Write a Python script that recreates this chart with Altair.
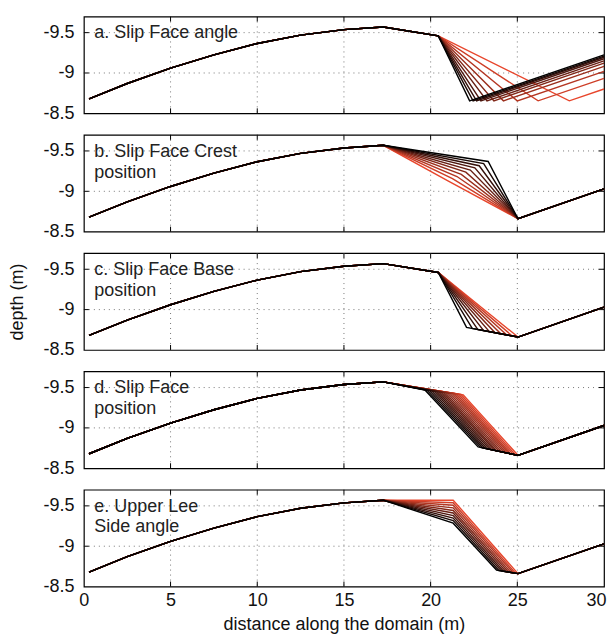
import altair as alt
import pandas as pd

# ---------------- data ----------------
x_ticks = [0, 5, 10, 15, 20, 25, 30]
x_grid = [5, 10, 15, 20, 25]
y_ticks = [-9.5, -9.0, -8.5]
y_grid = [-9.5, -9.0]

# shared stoss side of the dune (up to the crest)
stoss_x = [0.3, 2.5, 5.0, 7.5, 10.0, 12.5, 15.0, 17.27]
stoss_y = [-8.68, -8.87, -9.06, -9.225, -9.366, -9.47, -9.537, -9.57]

brink_x, brink_y = 20.44, -9.46      # default slip-face brink
trough_x, trough_y = 25.04, -8.66    # default slip-face base / trough
end_x, end_y = 30.0, -9.03           # right end of profile

# a. Slip Face angle
a_base_x = [22.25, 22.45, 22.65, 22.9, 23.25, 23.65, 24.2, 25.0, 26.2, 28.0]
a_base_y = [-8.655] * 10
a_end_y = [-9.225, -9.21, -9.195, -9.177, -9.151, -9.122, -9.081, -9.02, -8.934, -8.802]

# b. Slip Face Crest position
b_brink_x = [23.32, 23.06, 22.80, 22.55, 22.29, 22.03, 21.77, 21.52, 21.26, 21.00]
b_brink_y = [-9.37, -9.343, -9.317, -9.29, -9.263, -9.237, -9.21, -9.183, -9.157, -9.13]

# c. Slip Face Base position
c_base_x = [22.07, 22.40, 22.73, 23.06, 23.39, 23.72, 24.05, 24.38, 24.71, 25.04]
c_base_y = [-8.78, -8.767, -8.753, -8.74, -8.727, -8.713, -8.70, -8.687, -8.673, -8.66]

# d. Slip Face position
d_brink_x = [19.67, 19.80, 19.93, 20.06, 20.19, 20.32, 20.45, 20.58, 20.71,
             20.84, 20.97, 21.10, 21.23, 21.36, 21.49, 21.62, 21.75, 21.88]
d_brink_y = [-9.470, -9.466, -9.463, -9.459, -9.456, -9.452, -9.449, -9.445, -9.442,
             -9.438, -9.435, -9.431, -9.428, -9.424, -9.421, -9.417, -9.414, -9.410]
d_base_x = [22.74, 22.88, 23.01, 23.15, 23.28, 23.42, 23.55, 23.69, 23.82,
            23.96, 24.09, 24.23, 24.36, 24.50, 24.63, 24.77, 24.90, 25.04]
d_base_y = [-8.765, -8.759, -8.753, -8.746, -8.740, -8.734, -8.728, -8.722, -8.715,
            -8.709, -8.703, -8.697, -8.691, -8.685, -8.678, -8.672, -8.666, -8.660]

# e. Upper Lee Side angle
e_brink_x = [21.3] * 10
e_brink_y = [-9.285, -9.317, -9.348, -9.38, -9.412, -9.443, -9.475, -9.507, -9.538, -9.57]
e_base_x = [23.80, 23.94, 24.08, 24.21, 24.35, 24.49, 24.63, 24.77, 24.90, 25.04]
e_base_y = [-8.704, -8.699, -8.694, -8.689, -8.684, -8.680, -8.675, -8.670, -8.665, -8.66]

labels = {
    "a": "a. Slip Face angle",
    "b": "b. Slip Face Crest\nposition",
    "c": "c. Slip Face Base\nposition",
    "d": "d. Slip Face\nposition",
    "e": "e. Upper Lee\nSide angle",
}

# ---------------- build line table ----------------
END_RGB = (232, 70, 44)


def shade(i, n):
    t = i / (n - 1)
    return "#%02x%02x%02x" % tuple(int(round(t * c)) for c in END_RGB)


rows = {p: [] for p in "abcde"}


def add(panel, i, n, xs, ys):
    col = shade(i, n)
    for k, (x, y) in enumerate(zip(xs, ys)):
        rows[panel].append({"line": i, "k": k, "x": x, "y": y, "col": col})


n = len(a_base_x)
for i in range(n):
    add("a", i, n,
        stoss_x + [brink_x, a_base_x[i], end_x],
        stoss_y + [brink_y, a_base_y[i], a_end_y[i]])
n = len(b_brink_x)
for i in range(n):
    add("b", i, n,
        stoss_x + [b_brink_x[i], trough_x, end_x],
        stoss_y + [b_brink_y[i], trough_y, end_y])
n = len(c_base_x)
for i in range(n):
    add("c", i, n,
        stoss_x + [brink_x, c_base_x[i], trough_x, end_x],
        stoss_y + [brink_y, c_base_y[i], trough_y, end_y])
n = len(d_brink_x)
for i in range(n):
    add("d", i, n,
        stoss_x + [d_brink_x[i], d_base_x[i], trough_x, end_x],
        stoss_y + [d_brink_y[i], d_base_y[i], trough_y, end_y])
n = len(e_brink_x)
for i in range(n):
    add("e", i, n,
        stoss_x + [e_brink_x[i], e_base_x[i], trough_x, end_x],
        stoss_y + [e_brink_y[i], e_base_y[i], trough_y, end_y])

W, H = 521, 97
FONT = "Liberation Sans"
FS = 18

xscale = alt.Scale(domain=[0, 30], nice=False, zero=False)
yscale = alt.Scale(domain=[-9.7, -8.5], reverse=True, nice=False, zero=False)

grid_x_df = pd.DataFrame({"x": x_grid})
grid_y_df = pd.DataFrame({"y": y_grid})


def panel(p, bottom=False, ytitle=None):
    df = pd.DataFrame(rows[p])
    # red lines first, black on top
    df = df.sort_values(["line", "k"], ascending=[False, True])
    if bottom:
        xaxis = alt.Axis(
            values=x_ticks, title="distance along the domain (m)",
            grid=False, ticks=False, domain=False, labelPadding=5,
            labelFlush=False, labelOverlap=False, titlePadding=6,
            labelAlign={"condition": {"test": "datum.value == 30", "value": "right"},
                        "value": "center"},
            labelOffset={"condition": {"test": "datum.value == 30", "value": 2},
                         "value": 0},
        )
    else:
        xaxis = alt.Axis(values=x_ticks, title=None, labels=False, grid=False,
                         ticks=False, domain=False)
    yaxis = alt.Axis(values=y_ticks, title=ytitle, grid=False, ticks=False,
                     domain=False, labelPadding=10,
                     labelExpr="toString(datum.value)", titlePadding=16)

    gx = alt.Chart(grid_x_df).mark_rule(color="#777", strokeDash=[1, 4],
                                        strokeWidth=1).encode(
        x=alt.X("x:Q", scale=xscale, axis=xaxis))
    gy = alt.Chart(grid_y_df).mark_rule(color="#777", strokeDash=[1, 4],
                                        strokeWidth=1).encode(
        y=alt.Y("y:Q", scale=yscale, axis=yaxis))
    # inner tick marks (MATLAB style)
    tx_top = alt.Chart(grid_x_df).mark_rule(color="black").encode(
        x=alt.X("x:Q", scale=xscale), y=alt.value(0), y2=alt.value(5))
    tx_bot = alt.Chart(grid_x_df).mark_rule(color="black").encode(
        x=alt.X("x:Q", scale=xscale), y=alt.value(H), y2=alt.value(H - 5))
    ty_l = alt.Chart(grid_y_df).mark_rule(color="black").encode(
        y=alt.Y("y:Q", scale=yscale), x=alt.value(0), x2=alt.value(5))
    ty_r = alt.Chart(grid_y_df).mark_rule(color="black").encode(
        y=alt.Y("y:Q", scale=yscale), x=alt.value(W), x2=alt.value(W - 5))

    lines = alt.Chart(df).mark_line(strokeWidth=1.4).encode(
        x=alt.X("x:Q", scale=xscale),
        y=alt.Y("y:Q", scale=yscale),
        color=alt.Color("col:N", scale=None),
        detail="line:N",
        order=alt.Order("k:Q"),
    )
    lab_df = pd.DataFrame({"x": [0.6], "y": [-9.43], "t": [labels[p]]})
    lab = alt.Chart(lab_df).mark_text(align="left", baseline="alphabetic",
                                      fontSize=FS, font=FONT, lineHeight=21,
                                      lineBreak="\n", color="#222").encode(
        x=alt.X("x:Q", scale=xscale), y=alt.Y("y:Q", scale=yscale), text="t:N")
    return alt.layer(gx, gy, tx_top, tx_bot, ty_l, ty_r, lines, lab).properties(
        width=W, height=H)


chart = alt.vconcat(
    panel("a"), panel("b"), panel("c", ytitle="depth (m)"), panel("d"),
    panel("e", bottom=True), spacing=21.5, bounds="flush",
).configure_view(stroke="black", strokeWidth=1.2).configure_axis(
    labelFont=FONT, titleFont=FONT, labelFontSize=FS, titleFontSize=FS,
    labelColor="#111", titleColor="#111", titleFontWeight="normal",
).properties(padding={"left": 0, "top": 6, "right": 0, "bottom": 0},
             background="white")

chart.save("out.html", embed_options={"renderer": "svg", "actions": False})
